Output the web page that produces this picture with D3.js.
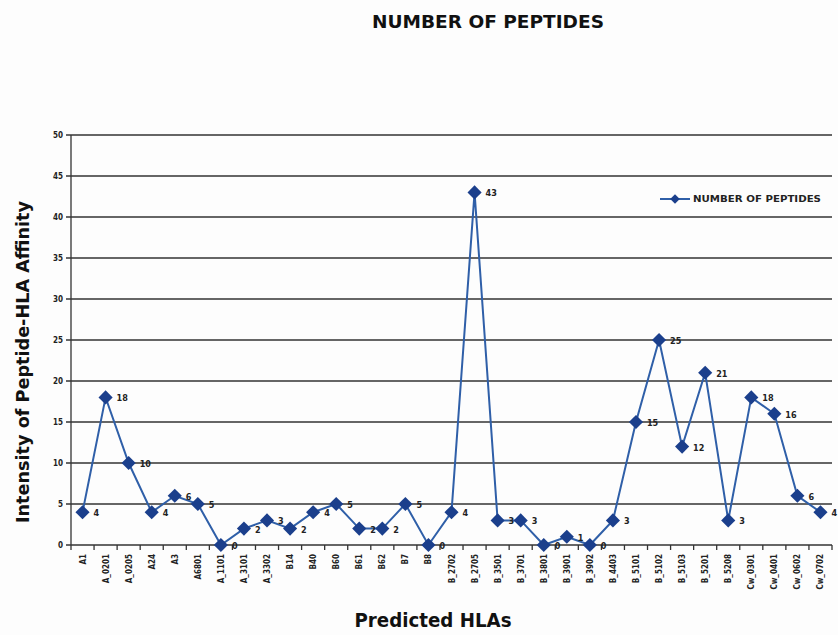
<!DOCTYPE html>
<html>
<head>
<meta charset="utf-8">
<script src="https://cdn.jsdelivr.net/npm/d3@7"></script>
<style>
	body { margin: 0; background: #fff; }
	svg { font-family: "DejaVu Sans Condensed", "DejaVu Sans", sans-serif; }
	.grid line { stroke: #333; stroke-width: 1.3; }
	.tick-lbl { font-size: 8px; font-weight: bold; fill: #222; }
	.val { font-size: 9px; font-weight: bold; fill: #222; }
</style>
</head>
<body>
<div id="chart"></div>
<script>
var categories = ["A1", "A_0201", "A_0205", "A24", "A3", "A6801", "A_1101", "A_3101", "A_3302",
	"B14", "B40", "B60", "B61", "B62", "B7", "B8", "B_2702", "B_2705", "B_3501", "B_3701",
	"B_3801", "B_3901", "B_3902", "B_4403", "B_5101", "B_5102", "B_5103", "B_5201", "B_5208",
	"Cw_0301", "Cw_0401", "Cw_0602", "Cw_0702"];
var peptides = [4, 18, 10, 4, 6, 5, 0, 2, 3, 2, 4, 5, 2, 2, 5, 0, 4, 43, 3, 3, 0, 1, 0, 3,
	15, 25, 12, 21, 3, 18, 16, 6, 4];
var yTicks = [0, 5, 10, 15, 20, 25, 30, 35, 40, 45, 50];

var W = 838, H = 635;
var plotLeft = 71, plotRight = 832, plotTop = 135, plotBottom = 545;
var lineColor = "#2f5fa8", markColor = "#1b3f8c";

var svg = d3.select("#chart").append("svg")
	.attr("width", W)
	.attr("height", H);

svg.append("rect").attr("width", W).attr("height", H).attr("fill", "#fdfdfd");

var x = d3.scaleBand().domain(categories).range([plotLeft, plotRight]);
var y = d3.scaleLinear().domain([0, 50]).range([plotBottom, plotTop]);

// gridlines
svg.append("g").attr("class", "grid")
	.selectAll("line").data(yTicks).enter()
	.append("line")
		.attr("x1", plotLeft - 5).attr("x2", plotRight)
		.attr("y1", function(d) { return y(d); })
		.attr("y2", function(d) { return y(d); });

// y axis line + labels
svg.append("line").attr("x1", plotLeft).attr("x2", plotLeft).attr("y1", plotTop).attr("y2", plotBottom)
	.attr("stroke", "#333").attr("stroke-width", 1.3);
svg.selectAll(".ylab").data(yTicks).enter()
	.append("text")
		.attr("class", "tick-lbl")
		.attr("x", plotLeft - 8)
		.attr("y", function(d) { return y(d) + 3; })
		.attr("text-anchor", "end")
		.text(function(d) { return d; });

// x axis ticks at category edges
var edges = categories.map(function(c) { return x(c); }).concat([plotRight]);
svg.selectAll(".xtick").data(edges).enter()
	.append("line")
		.attr("x1", function(d) { return d; }).attr("x2", function(d) { return d; })
		.attr("y1", plotBottom).attr("y2", plotBottom + 5)
		.attr("stroke", "#333").attr("stroke-width", 1.3);

svg.selectAll(".xlab").data(categories).enter()
	.append("text")
		.attr("class", "tick-lbl")
		.attr("text-anchor", "end")
		.attr("transform", function(d) {
			return "translate(" + (x(d) + x.bandwidth() / 2 + 3) + "," + (plotBottom + 9) + ") rotate(-90)";
		})
		.text(function(d) { return d; });

// series
var cx = function(i) { return x(categories[i]) + x.bandwidth() / 2; };
var line = d3.line()
	.x(function(d, i) { return cx(i); })
	.y(function(d) { return y(d); });

svg.append("path").datum(peptides)
	.attr("d", line)
	.attr("fill", "none")
	.attr("stroke", lineColor)
	.attr("stroke-width", 2);

// square diamonds (rotated squares, like Excel's marker)
var diamond = d3.symbol().type(d3.symbolSquare).size(100);
svg.selectAll(".pt").data(peptides).enter()
	.append("path")
		.attr("d", diamond)
		.attr("transform", function(d, i) { return "translate(" + cx(i) + "," + y(d) + ") rotate(45)"; })
		.attr("fill", markColor);

svg.selectAll(".val").data(peptides).enter()
	.append("text")
		.attr("class", "val")
		.attr("x", function(d, i) { return cx(i) + 11; })
		.attr("y", function(d) { return y(d) + 4; })
		.text(function(d) { return d; });

// legend
var lg = svg.append("g").attr("transform", "translate(660,199)");
lg.append("line").attr("x1", 0).attr("x2", 30).attr("stroke", lineColor).attr("stroke-width", 2);
lg.append("path").attr("d", d3.symbol().type(d3.symbolSquare).size(45))
	.attr("transform", "translate(15,0) rotate(45)").attr("fill", markColor);
lg.append("text").attr("x", 33).attr("y", 3).attr("font-size", "8.5px").attr("font-weight", "bold")
	.attr("fill", "#222").attr("textLength", 128).attr("lengthAdjust", "spacingAndGlyphs")
	.text("NUMBER OF PEPTIDES");

// titles
svg.append("text").attr("x", 488).attr("y", 28).attr("text-anchor", "middle")
	.attr("font-size", "17px").attr("font-weight", "bold").attr("fill", "#111")
	.attr("textLength", 232).attr("lengthAdjust", "spacingAndGlyphs").text("NUMBER OF PEPTIDES");
svg.append("text").attr("x", 433).attr("y", 627).attr("text-anchor", "middle")
	.attr("font-size", "19px").attr("font-weight", "bold").attr("fill", "#111")
	.attr("textLength", 157).attr("lengthAdjust", "spacingAndGlyphs").text("Predicted HLAs");
svg.append("text").attr("transform", "translate(29,362) rotate(-90)").attr("text-anchor", "middle")
	.attr("font-size", "18px").attr("font-weight", "bold").attr("fill", "#111")
	.attr("textLength", 322).attr("lengthAdjust", "spacingAndGlyphs").text("Intensity of Peptide-HLA  Affinity");
</script>
</body>
</html>
